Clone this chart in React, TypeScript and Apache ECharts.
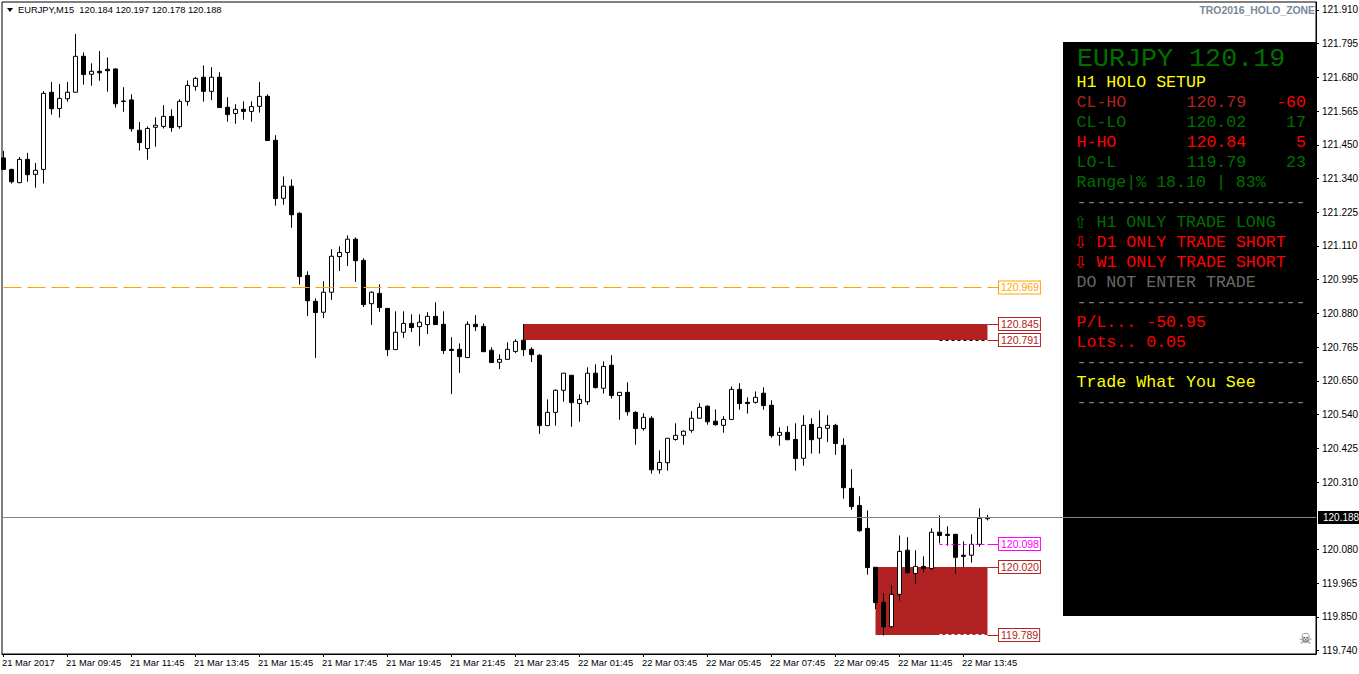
import React, { useEffect, useRef } from "react";
import * as echarts from "echarts";

const OPEN = [121.409,121.370,121.325,121.404,121.353,121.370,121.632,121.577,121.610,121.632,121.754,121.693,121.703,121.710,121.711,121.602,121.606,121.503,121.441,121.513,121.516,121.550,121.515,121.601,121.652,121.683,121.635,121.683,121.581,121.560,121.574,121.567,121.584,121.618,121.469,121.272,121.313,121.221,121.010,120.922,120.885,120.953,121.074,121.088,121.133,121.061,120.914,120.949,120.898,120.758,120.817,120.847,120.836,120.843,120.871,120.844,120.759,120.759,120.731,120.844,120.837,120.756,120.715,120.725,120.752,120.790,120.759,120.739,120.500,120.545,120.620,120.671,120.575,120.581,120.678,120.627,120.705,120.602,120.613,120.545,120.490,120.525,120.350,120.374,120.453,120.467,120.484,120.525,120.566,120.515,120.501,120.521,120.623,120.579,120.579,120.610,120.569,120.467,120.477,120.453,120.389,120.504,120.457,120.491,120.501,120.433,120.287,120.229,120.151,120.019,119.900,119.817,119.927,120.077,119.998,120.022,120.015,120.138,120.131,120.131,120.060,120.060,120.097,120.184];
const CLOSE = [121.370,121.328,121.404,121.352,121.367,121.628,121.576,121.611,121.632,121.754,121.692,121.703,121.698,121.705,121.593,121.601,121.508,121.461,121.509,121.520,121.550,121.512,121.601,121.655,121.679,121.635,121.683,121.580,121.556,121.574,121.567,121.583,121.618,121.468,121.271,121.313,121.216,121.006,120.924,120.884,120.953,121.075,121.088,121.133,121.060,120.911,120.953,120.901,120.758,120.817,120.847,120.833,120.851,120.871,120.843,120.755,120.755,120.734,120.844,120.836,120.751,120.714,120.725,120.759,120.786,120.758,120.741,120.500,120.545,120.620,120.678,120.578,120.589,120.678,120.629,120.701,120.602,120.613,120.547,120.490,120.528,120.350,120.375,120.457,120.467,120.481,120.525,120.562,120.513,120.503,120.521,120.623,120.575,120.575,120.596,120.568,120.466,120.477,120.452,120.388,120.501,120.452,120.494,120.501,120.439,120.289,120.225,120.143,120.018,119.899,119.817,119.927,120.073,120.001,120.022,120.015,120.138,120.127,120.127,120.053,120.056,120.097,120.185,120.188];
const LOW = [121.370,121.322,121.323,121.328,121.308,121.322,121.556,121.546,121.600,121.632,121.658,121.654,121.671,121.634,121.580,121.566,121.498,121.434,121.403,121.447,121.509,121.498,121.508,121.586,121.637,121.600,121.605,121.580,121.532,121.525,121.539,121.532,121.563,121.468,121.247,121.250,121.172,120.979,120.872,120.730,120.865,120.927,121.025,121.042,120.988,120.903,120.842,120.886,120.736,120.758,120.798,120.818,120.770,120.811,120.843,120.743,120.607,120.679,120.731,120.821,120.751,120.714,120.692,120.724,120.746,120.736,120.716,120.472,120.500,120.500,120.581,120.496,120.513,120.571,120.626,120.609,120.592,120.520,120.534,120.435,120.483,120.337,120.337,120.347,120.449,120.435,120.476,120.525,120.503,120.500,120.476,120.521,120.554,120.541,120.575,120.554,120.459,120.432,120.452,120.347,120.364,120.405,120.405,120.444,120.401,120.252,120.214,120.140,119.994,119.877,119.787,119.815,119.906,119.997,119.963,120.001,120.009,120.100,120.092,119.997,120.019,120.035,120.089,120.178];
const HIGH = [121.433,121.372,121.412,121.426,121.392,121.636,121.667,121.660,121.667,121.830,121.767,121.730,121.772,121.750,121.713,121.649,121.625,121.531,121.516,121.547,121.588,121.574,121.608,121.672,121.684,121.723,121.717,121.700,121.615,121.591,121.601,121.601,121.667,121.625,121.486,121.346,121.336,121.224,121.024,120.932,120.990,121.099,121.109,121.146,121.139,121.068,120.956,120.980,120.898,120.888,120.888,120.878,120.878,120.885,120.919,120.888,120.800,120.779,120.854,120.875,120.847,120.766,120.742,120.783,120.793,120.845,120.766,120.742,120.589,120.623,120.678,120.671,120.606,120.698,120.708,120.718,120.739,120.613,120.647,120.549,120.542,120.532,120.416,120.457,120.508,120.484,120.549,120.576,120.569,120.555,120.532,120.633,120.644,120.596,120.616,120.630,120.586,120.494,120.498,120.508,120.535,120.525,120.552,120.535,120.506,120.457,120.352,120.260,120.212,120.019,119.931,119.958,120.127,120.121,120.077,120.056,120.151,120.195,120.158,120.131,120.107,120.131,120.219,120.197];

const TIME_LABELS = ["21 Mar 2017","21 Mar 09:45","21 Mar 11:45","21 Mar 13:45","21 Mar 15:45","21 Mar 17:45","21 Mar 19:45","21 Mar 21:45","21 Mar 23:45","22 Mar 01:45","22 Mar 03:45","22 Mar 05:45","22 Mar 07:45","22 Mar 09:45","22 Mar 11:45","22 Mar 13:45"];
const PRICE_LABELS = ["119.740","119.850","119.965","120.080","120.195","120.310","120.425","120.540","120.650","120.765","120.880","120.995","121.110","121.225","121.340","121.450","121.565","121.680","121.795","121.910"];
const PRICE_TICK_START = 119.7357;
const PRICE_TICK_STEP = 0.11453;

const LEVEL_CURRENT = 120.188;
const LEVEL_ORANGE = 120.969;
const ZONE_HIGH_TOP = 120.845;
const ZONE_HIGH_BOTTOM = 120.791;
const LEVEL_MAGENTA = 120.098;
const ZONE_LOW_TOP = 120.02;
const ZONE_LOW_BOTTOM = 119.789;
const ZONE_LOW_DOTS = 119.791;

const FIREBRICK = "#b22222";
const GREEN = "#006f00";
const RED = "#ff0000";
const YELLOW = "#ffff00";
const DASH = "#808080";

const PANEL_DASHES = "-----------------------";

export default function App() {
  const ref = useRef<HTMLDivElement>(null);
  useEffect(() => {
    const chart = echarts.init(ref.current!, undefined, { renderer: "svg" });

    const rows = OPEN.map((o, i) => [i, o, CLOSE[i], LOW[i], HIGH[i]]);
    const priceTicks = PRICE_LABELS.map((_, i) => PRICE_TICK_START + i * PRICE_TICK_STEP);
    const visiblePriceTicks = priceTicks.filter((_, i) => PRICE_LABELS[i] !== "120.195");
    const timeTicks = TIME_LABELS.map((_, i) => i * 8);

    const tagEnd = 124.31;
    const lineTo = (
      price: number,
      from: number,
      color: string,
      type: any,
      label?: string,
      dash?: number[]
    ) => [
      {
        coord: [from, price],
        lineStyle: { color, width: 1, type: dash || type },
        label: label
          ? {
              show: true,
              position: "end",
              distance: 1,
              formatter: label,
              color,
              fontFamily: "Liberation Sans",
              fontSize: 10.5,
              lineHeight: 10,
              borderColor: color,
              borderWidth: 1,
              padding: [1, 1, 1, 2],
              backgroundColor: "#fff",
            }
          : { show: false },
      },
      { coord: [label || type === "solid" ? tagEnd : 123, price] },
    ];

    const mono = (size: number) => `${size}px "Liberation Mono"`;
    const txt = (text: string, x: number, y: number, fill: string, size = 16.6, align = "left") => ({
      type: "text",
      x,
      y: y + 0.7,
      silent: true,
      z: 1,
      style: { text, fill, font: mono(size), textAlign: align, textVerticalAlign: "middle" },
    });
    const arrow = (text: string, y: number, fill: string) => ({
      type: "text",
      x: 1080.5,
      y,
      silent: true,
      z: 1,
      style: { text, fill, font: '16.5px "DejaVu Sans"', textAlign: "center", textVerticalAlign: "middle" },
    });

    chart.setOption({
      animation: false,
      backgroundColor: "#ffffff",
      grid: {
        show: true,
        left: 2,
        top: 2,
        width: 1314,
        height: 652,
        outerBoundsMode: "none",
        borderColor: "#000",
        borderWidth: 1,
        backgroundColor: "#fff",
      },
      xAxis: [
        {
          type: "value",
          min: -0.1875,
          max: 164.0625,
          splitLine: { show: false },
          axisLine: { show: true, onZero: false, lineStyle: { color: "#000" } },
          axisTick: { show: true, length: 3, customValues: timeTicks, lineStyle: { color: "#000" } },
          axisLabel: { show: false },
        },
        {
          type: "value",
          position: "bottom",
          min: 0,
          max: 164.25,
          splitLine: { show: false },
          axisLine: { show: false, onZero: false },
          axisTick: { show: false },
          axisLabel: {
            customValues: timeTicks,
            align: "left",
            margin: 4,
            color: "#000",
            fontFamily: "Liberation Sans",
            fontSize: 9.4,
            formatter: (v: number) => TIME_LABELS[Math.round(v / 8)] ?? "",
          },
        },
      ],
      yAxis: {
        type: "value",
        position: "right",
        min: 119.7245,
        max: 121.9384,
        splitLine: { show: false },
        axisLine: { show: true, onZero: false, lineStyle: { color: "#000" } },
        axisTick: { show: true, length: 3, customValues: visiblePriceTicks, lineStyle: { color: "#000" } },
        axisLabel: {
          customValues: visiblePriceTicks,
          margin: 6,
          color: "#000",
          fontFamily: "Liberation Sans",
          fontSize: 10,
          formatter: (v: number) => PRICE_LABELS[Math.round((v - PRICE_TICK_START) / PRICE_TICK_STEP)] ?? "",
        },
      },
      series: [
        {
          type: "candlestick",
          xAxisIndex: 0,
          data: rows,
          barWidth: 5,
          clip: true,
          silent: true,
          itemStyle: {
            color: "#ffffff",
            color0: "#000000",
            borderColor: "#000000",
            borderColor0: "#000000",
            borderWidth: 1,
          },
          markArea: {
            silent: true,
            itemStyle: { color: FIREBRICK, opacity: 1 },
            data: [
              [{ coord: [65, ZONE_HIGH_TOP] }, { coord: [123, ZONE_HIGH_BOTTOM] }],
              [{ coord: [109, ZONE_LOW_TOP] }, { coord: [123, ZONE_LOW_BOTTOM] }],
            ],
          },
          markLine: {
            silent: true,
            symbol: "none",
            precision: 3,
            z: 6,
            data: [
              lineTo(LEVEL_ORANGE, 0, "#ffa500", "dashed", "120.969", [18, 6]),
              lineTo(ZONE_HIGH_TOP, 123, FIREBRICK, "solid", "120.845"),
              lineTo(ZONE_HIGH_BOTTOM, 123, FIREBRICK, "solid", "120.791"),
              lineTo(ZONE_HIGH_BOTTOM, 117, "#000000", "dotted", undefined, [3, 3]),
              lineTo(LEVEL_MAGENTA, 123, "#ff00ff", "solid", "120.098"),
              lineTo(LEVEL_MAGENTA, 117, "#ff00ff", "dotted", undefined, [3, 3]),
              lineTo(ZONE_LOW_TOP, 123, FIREBRICK, "solid", "120.020"),
              lineTo(ZONE_LOW_BOTTOM, 123, FIREBRICK, "solid", "119.789"),
              lineTo(ZONE_LOW_DOTS, 117, "#ffffff", "dotted", undefined, [3, 3]),
              [
                {
                  coord: [-0.1875, LEVEL_CURRENT],
                  lineStyle: { color: "#778899", width: 1, type: "solid" },
                  label: {
                    show: true,
                    position: "end",
                    distance: 2,
                    formatter: "120.188",
                    color: "#fff",
                    backgroundColor: "#000",
                    fontFamily: "Liberation Sans",
                    fontSize: 10,
                    lineHeight: 10,
                    padding: [2, 3, 1, 5],
                  },
                },
                { coord: [164.0625, LEVEL_CURRENT] },
              ],
            ],
          },
        },
      ],
      graphic: [
        { type: "rect", z: 0, silent: true, shape: { x: 1063, y: 42, width: 254, height: 574 }, style: { fill: "#000" } },
        txt("EURJPY 120.19", 1077, 58, GREEN, 26.7),
        txt("H1 HOLO SETUP", 1076.5, 82, YELLOW),
        txt("CL-HO", 1076.5, 102, FIREBRICK),
        txt("120.79", 1186.5, 102, FIREBRICK),
        txt("-60", 1306, 102, RED, 16.6, "right"),
        txt("CL-LO", 1076.5, 122, GREEN),
        txt("120.02", 1186.5, 122, GREEN),
        txt("17", 1306, 122, GREEN, 16.6, "right"),
        txt("H-HO", 1076.5, 142, RED),
        txt("120.84", 1186.5, 142, RED),
        txt("5", 1306, 142, RED, 16.6, "right"),
        txt("LO-L", 1076.5, 162, GREEN),
        txt("119.79", 1186.5, 162, GREEN),
        txt("23", 1306, 162, GREEN, 16.6, "right"),
        txt("Range|% 18.10 | 83%", 1076.5, 182, GREEN),
        txt(PANEL_DASHES, 1076.5, 202, DASH),
        arrow("\u21E7", 222, GREEN),
        txt("H1 ONLY TRADE LONG", 1096.5, 222, GREEN),
        arrow("\u21E9", 242, RED),
        txt("D1 ONLY TRADE SHORT", 1096.5, 242, RED),
        arrow("\u21E9", 262, RED),
        txt("W1 ONLY TRADE SHORT", 1096.5, 262, RED),
        txt("DO NOT ENTER TRADE", 1076.5, 282, "#696969"),
        txt(PANEL_DASHES, 1076.5, 302, DASH),
        txt("P/L... -50.95", 1076.5, 322, RED),
        txt("Lots.. 0.05", 1076.5, 342, RED),
        txt(PANEL_DASHES, 1076.5, 362, DASH),
        txt("Trade What You See", 1076.5, 382, YELLOW),
        txt(PANEL_DASHES, 1076.5, 402, DASH),
        {
          type: "polygon",
          silent: true,
          z: 1,
          shape: { points: [[7, 8], [13, 8], [10, 12]] },
          style: { fill: "#000" },
        },
        {
          type: "text",
          x: 18,
          y: 10,
          silent: true,
          z: 1,
          style: {
            text: "EURJPY,M15  120.184 120.197 120.178 120.188",
            fill: "#000",
            font: '9.3px "Liberation Sans"',
            textVerticalAlign: "middle",
          },
        },
        {
          type: "text",
          x: 1315,
          y: 10,
          silent: true,
          z: 1,
          style: {
            text: "TRO2016_HOLO_ZONE",
            fill: "#778899",
            font: 'bold 10.4px "Liberation Sans"',
            textAlign: "right",
            textVerticalAlign: "middle",
          },
        },
        {
          type: "text",
          x: 1305.5,
          y: 639,
          silent: true,
          z: 1,
          style: { text: "\u2620", fill: "#555", font: '15px "DejaVu Sans"', textAlign: "center", textVerticalAlign: "middle" },
        },
      ],
    });
    return () => chart.dispose();
  }, []);
  return <div ref={ref} style={{ position: "fixed", left: 0, top: 0, width: 1359, height: 674 }} />;
}
